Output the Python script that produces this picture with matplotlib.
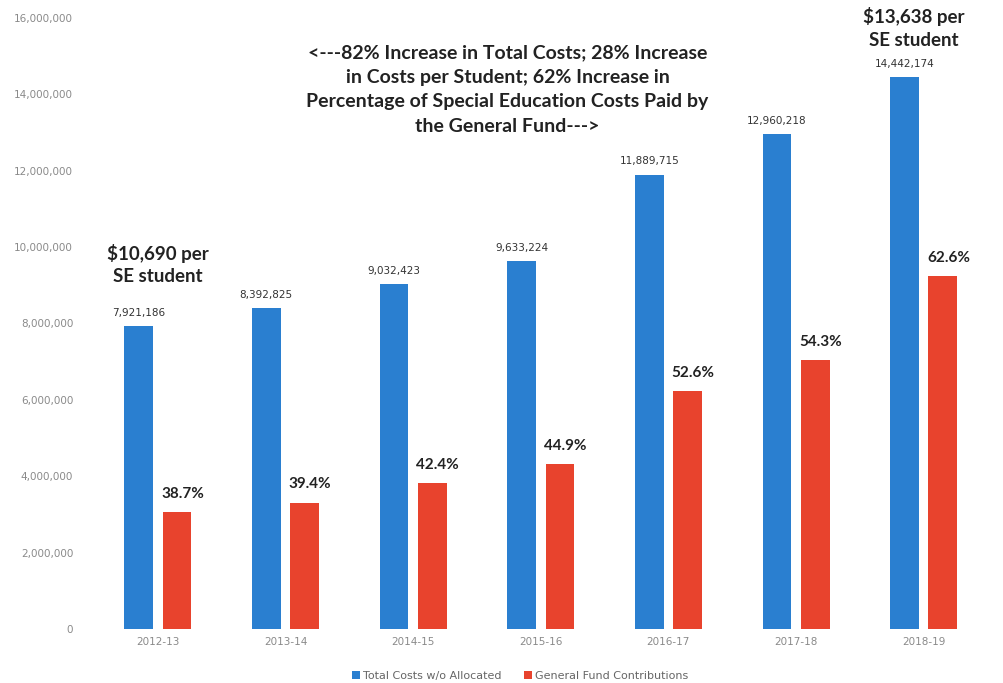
import matplotlib
matplotlib.use("Agg")
import matplotlib.pyplot as plt
import numpy as np
from matplotlib.ticker import FuncFormatter

years = ["2012-13", "2013-14", "2014-15", "2015-16", "2016-17", "2017-18", "2018-19"]
total_costs = [7921186, 8392825, 9032423, 9633224, 11889715, 12960218, 14442174]
general_fund = [3060000, 3310000, 3820000, 4320000, 6240000, 7030000, 9240000]
pct_labels = ["38.7%", "39.4%", "42.4%", "44.9%", "52.6%", "54.3%", "62.6%"]
yticks = [0, 2000000, 4000000, 6000000, 8000000, 10000000, 12000000, 14000000, 16000000]

blue = "#2a7fd0"
red = "#e8432d"

fig = plt.figure(figsize=(10.04, 6.83), dpi=100)
ax = fig.add_axes([0.0936, 0.079, 0.890, 0.895])

x = np.arange(len(years))
w = 0.225
off = 0.15
ax.bar(x - off, total_costs, w, color=blue, label="Total Costs w/o Allocated")
ax.bar(x + off, general_fund, w, color=red, label="General Fund Contributions")

for xi, v in zip(x, total_costs):
    ax.annotate(f"{v:,}", (xi - off, v), xytext=(0, 6), textcoords="offset points",
                ha="center", va="bottom", fontsize=7.5, color="#333333")
for xi, v, p in zip(x, general_fund, pct_labels):
    ax.annotate(p, (xi + off, v), xytext=(4, 8), textcoords="offset points",
                ha="center", va="bottom", fontsize=11, fontweight="bold",
                color="#222222", family="Lato")

ax.set_xlim(-0.5, len(years) - 0.5)
ax.set_ylim(0, 16000000)
ax.set_yticks(yticks)
ax.yaxis.set_major_formatter(FuncFormatter(lambda v, p: f"{int(v):,}"))
ax.set_xticks(x)
ax.set_xticklabels(years)
ax.tick_params(axis="both", length=0, colors="#8a8a8a", labelsize=7.5)
ax.tick_params(axis="y", pad=15)
ax.tick_params(axis="x", pad=6)
for s in ax.spines.values():
    s.set_visible(False)

ax.text(0, 9000000, "$10,690 per\nSE student", ha="center", va="bottom",
        fontsize=13.5, fontweight="bold", color="#222222", family="Lato", linespacing=1.35)
ax.text(6 - 0.08, 15180000, "$13,638 per\nSE student", ha="center", va="bottom",
        fontsize=13.5, fontweight="bold", color="#222222", family="Lato", linespacing=1.45)
ax.text(2.74, 14120000,
        "<---82% Increase in Total Costs; 28% Increase\nin Costs per Student; 62% Increase in\n"
        "Percentage of Special Education Costs Paid by\nthe General Fund--->",
        ha="center", va="center", fontsize=14, fontweight="bold", color="#222222",
        family="Lato", linespacing=1.55)

leg = fig.legend(loc="center", bbox_to_anchor=(0.518, 0.01), ncol=2, frameon=False,
                 fontsize=8, handlelength=0.7, handleheight=0.7, handletextpad=0.3,
                 columnspacing=2.0)
for t in leg.get_texts():
    t.set_color("#666666")

fig.savefig("out.png", dpi=100)
